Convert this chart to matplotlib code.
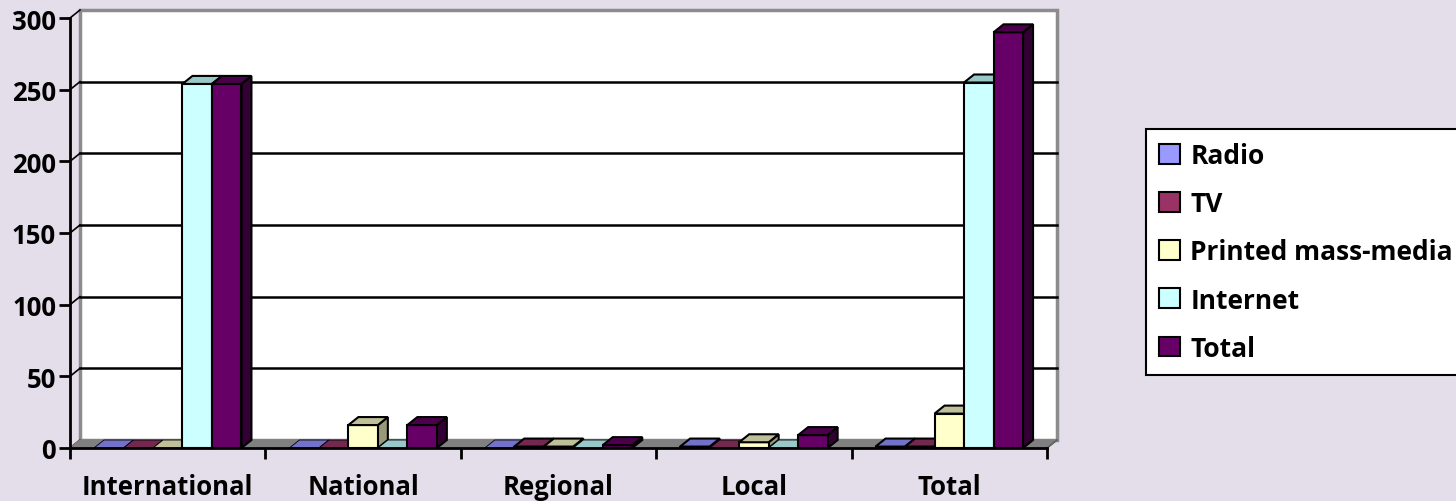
import matplotlib.pyplot as plt
from matplotlib.patches import Polygon, Patch
import numpy as np

categories = ["International", "National", "Regional", "Local", "Total"]
series = ["Radio", "TV", "Printed mass-media", "Internet", "Total"]
radio = [0, 0, 0, 1, 1]
tv = [0, 0, 1, 0, 1]
printed = [0, 16, 1, 4, 24]
internet = [254, 0, 0, 0, 255]
total = [254, 16, 2, 9, 290]
yticks = [0, 50, 100, 150, 200, 250, 300]

front = ["#9999FF", "#993366", "#FFFFCC", "#CCFFFF", "#660066"]
top = ["#7272C8", "#732850", "#BFBF99", "#99C8C8", "#4C004C"]
side = ["#5C5CA0", "#5C1F3D", "#99997A", "#7AA0A0", "#330033"]

bg = "#E3DEEA"
font = {"family": "Open Sans", "weight": "bold", "size": 18.5}
W, H = 1456, 502
fig = plt.figure(figsize=(W / 100, H / 100), dpi=100, facecolor=bg)

# front plane of the chart, in pixels
x0, x1, y0, y1 = 70, 1047, 449, 19
ax = fig.add_axes([x0 / W, (H - y0) / H, (x1 - x0) / W, (y0 - y1) / H])
ax.set_xlim(0, 5)
ax.set_ylim(0, 300)
ax.set_facecolor("none")
for s in ["top", "right"]:
    ax.spines[s].set_visible(False)
for s in ["left", "bottom"]:
    ax.spines[s].set_linewidth(2)
    ax.spines[s].set_zorder(10)

# depth offset in data units (10 px right, 8 px up)
DX = 10 * 5 / (x1 - x0)
DY = 8 * 300 / (y0 - y1)

# back wall and floor
ax.add_patch(Polygon([(DX, DY), (5 + DX, DY), (5 + DX, 300 + DY), (DX, 300 + DY)], closed=True,
                     facecolor="white", edgecolor="#8C8C8C", lw=2.5, zorder=1, clip_on=False))
ax.add_patch(Polygon([(0, 0), (5, 0), (5 + DX, DY), (DX, DY)], closed=True,
                     facecolor="#808080", edgecolor="#808080", lw=1, zorder=2, clip_on=False))
for v in yticks[1:-1]:
    ax.plot([DX, 5 + DX], [v + DY, v + DY], color="black", lw=1.8, zorder=1.5, clip_on=False)
for v in yticks:
    ax.plot([0, DX], [v, v + DY], color="black", lw=1.2, zorder=1.5, clip_on=False)
ax.plot([5, 5 + DX], [0, DY], color="#606060", lw=1.2, zorder=3, clip_on=False)

data = np.array([radio, tv, printed, internet, total], dtype=float)
bw = 29.5 * 5 / (x1 - x0)
n = len(series)
for g in range(len(categories)):
    left = g + 0.5 - n * bw / 2
    for i in range(n):
        h = data[i, g]
        a = left + i * bw
        b = a + bw
        z = 5 + g * 0.01 + i * 0.001
        if h > 0:
            ax.add_patch(Polygon([(b, 0), (b + DX, DY), (b + DX, h + DY), (b, h)], closed=True,
                                 facecolor=side[i], edgecolor="black", lw=1.5, zorder=z, clip_on=False))
            ax.add_patch(Polygon([(a, 0), (b, 0), (b, h), (a, h)], closed=True,
                                 facecolor=front[i], edgecolor="black", lw=1.5, zorder=z, clip_on=False))
        ax.add_patch(Polygon([(a, h), (b, h), (b + DX, h + DY), (a + DX, h + DY)], closed=True,
                             facecolor=top[i], edgecolor="black", lw=1.5 if h > 0 else 0.6,
                             zorder=z, clip_on=False))

ax.set_yticks(yticks)
ax.set_yticklabels([str(v) for v in yticks], fontdict=font)
ax.set_xticks(np.arange(6))
ax.set_xticklabels([])
ax.set_xticks(np.arange(5) + 0.5, minor=True)
ax.set_xticklabels(categories, minor=True, fontdict=font)
ax.tick_params(axis="x", which="major", length=8, width=2, direction="out")
ax.tick_params(axis="x", which="minor", length=0, pad=18)
ax.tick_params(axis="y", length=8, width=2, pad=2)

handles = [Patch(facecolor=front[i], edgecolor="black", lw=1.5) for i in range(n)]
leg = fig.legend(handles, series, loc="upper left", bbox_to_anchor=(1146 / W, 1 - 130 / H),
                 frameon=True, fancybox=False, edgecolor="black", framealpha=1,
                 handlelength=0.78, handleheight=0.78, handletextpad=0.4,
                 labelspacing=0.8, borderpad=0.5, borderaxespad=0,
                 prop={"family": "Open Sans", "weight": "bold", "size": 19})
leg.get_frame().set_linewidth(1.5)

fig.savefig("out.png", dpi=100, facecolor=bg)
